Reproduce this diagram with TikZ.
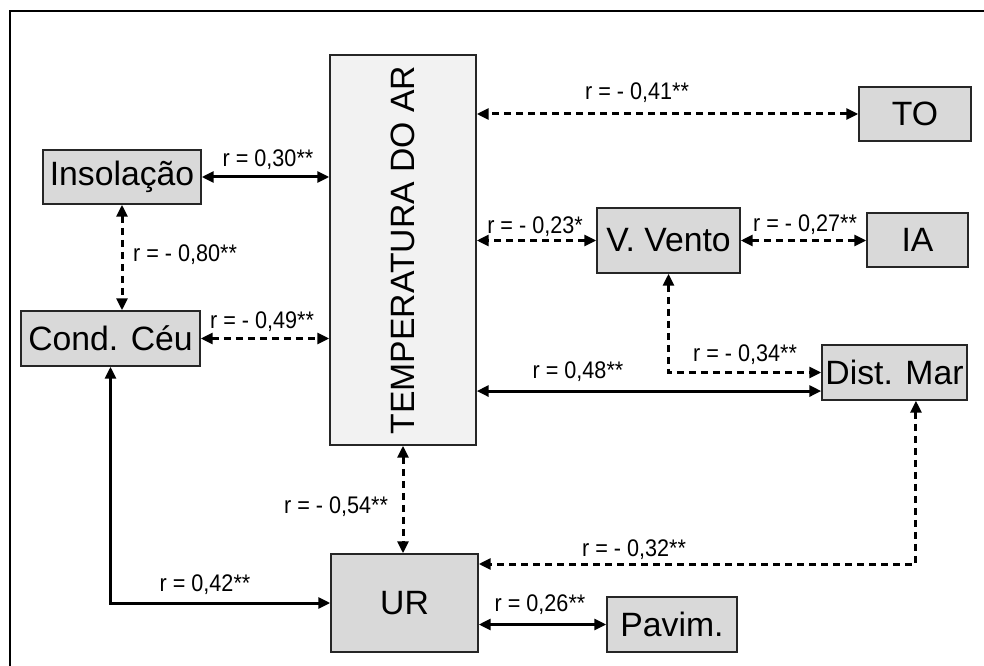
\documentclass[tikz,border=0pt]{standalone}
\usepackage{graphicx}
\usepackage{fontspec}
\setmainfont{Liberation Sans}
\newfontfamily\narrowfont{Liberation Sans}[FakeStretch=0.9]
\usepackage{tikz}
\usetikzlibrary{arrows.meta}
\definecolor{boxgray}{RGB}{217,217,217}
\definecolor{tempgray}{RGB}{242,242,242}

\begin{document}
\begin{tikzpicture}[x=0.75pt, y=-0.75pt,
  >={Triangle[length=9pt,width=8.25pt]},
  block/.style={rectangle, draw=black!85, line width=1.1pt, fill=boxgray,
    inner sep=0pt, font=\fontsize{25.3}{30}\selectfont},
  link/.style={<->, line width=2.25pt},
  dlink/.style={link, dash pattern=on 5.25pt off 3.75pt},
  lbl/.style={inner sep=0pt, font=\narrowfont\fontsize{18}{22}\selectfont}]
  \useasboundingbox (0,0) rectangle (984,666);
  \draw[line width=1.5pt] (10,666) -- (10,11) -- (984,11);
  % boxes
  \node[block, minimum width=118.5pt, minimum height=40.5pt] (insol) at (122,177) {Insolação};
  \node[block, minimum width=134.25pt, minimum height=41.25pt] (ceu) at (110.5,338.5) {Cond. Céu};
  \node[block, fill=tempgray, minimum width=109.5pt, minimum height=292.5pt] (temp) at (403,250)
    {\rotatebox{90}{TEMPERATURA DO AR}};
  \node[block, minimum width=84pt, minimum height=40.5pt] (to) at (915,114) {TO};
  \node[block, minimum width=107.25pt, minimum height=48.75pt] (vento) at (668.5,240.5) {V. Vento};
  \node[block, minimum width=75.75pt, minimum height=40.5pt] (ia) at (917.5,240) {IA};
  \node[block, minimum width=108.75pt, minimum height=41.25pt] (mar) at (894.5,372.5) {Dist. Mar};
  \node[block, minimum width=110.25pt, minimum height=73.5pt] (ur) at (404.5,603) {UR};
  \node[block, minimum width=97.5pt, minimum height=41.25pt] (pav) at (672,624.5) {Pavim.};
  % correlations
  \draw[link] (insol.east) -- (insol.east -| temp.west);
  \draw[dlink] (insol.south) -- (insol.south |- ceu.north);
  \draw[dlink] (ceu.east) -- (ceu.east -| temp.west);
  \draw[dlink] (to.west) -- (to.west -| temp.east);
  \draw[dlink] (vento.west) -- (vento.west -| temp.east);
  \draw[dlink] (vento.east) -- (vento.east -| ia.west);
  \draw[dlink] (vento.south) |- (mar.west);
  \draw[link] ([yshift=-13.9pt]mar.west) -- ([yshift=-13.9pt]mar.west -| temp.east);
  \draw[dlink] (temp.south) -- (temp.south |- ur.north);
  \draw[dlink] ([xshift=16.1pt]mar.south) |- ([yshift=29.25pt]ur.east);
  \draw[link] (ceu.south) |- (ur.west);
  \draw[link] (pav.west) -- (pav.west -| ur.east);
  % labels
  \node[lbl] (rinsol) at (268,160) {r = 0,30**};
  \node[lbl] (rinsceu) at (185,255) {r = - 0,80**};
  \node[lbl] (rceu) at (262,322) {r = - 0,49**};
  \node[lbl] (rto) at (637,93) {r = - 0,41**};
  \node[lbl] (rvento) at (535,227) {r = - 0,23*};
  \node[lbl] (ria) at (805,225) {r = - 0,27**};
  \node[lbl] (rventomar) at (745,355) {r = - 0,34**};
  \node[lbl] (rmar) at (578,372) {r = 0,48**};
  \node[lbl] (rur) at (336,507) {r = - 0,54**};
  \node[lbl] (rmarur) at (634,550) {r = - 0,32**};
  \node[lbl] (rceuur) at (205,585) {r = 0,42**};
  \node[lbl] (rpav) at (540,605) {r = 0,26**};
\end{tikzpicture}
\end{document}
